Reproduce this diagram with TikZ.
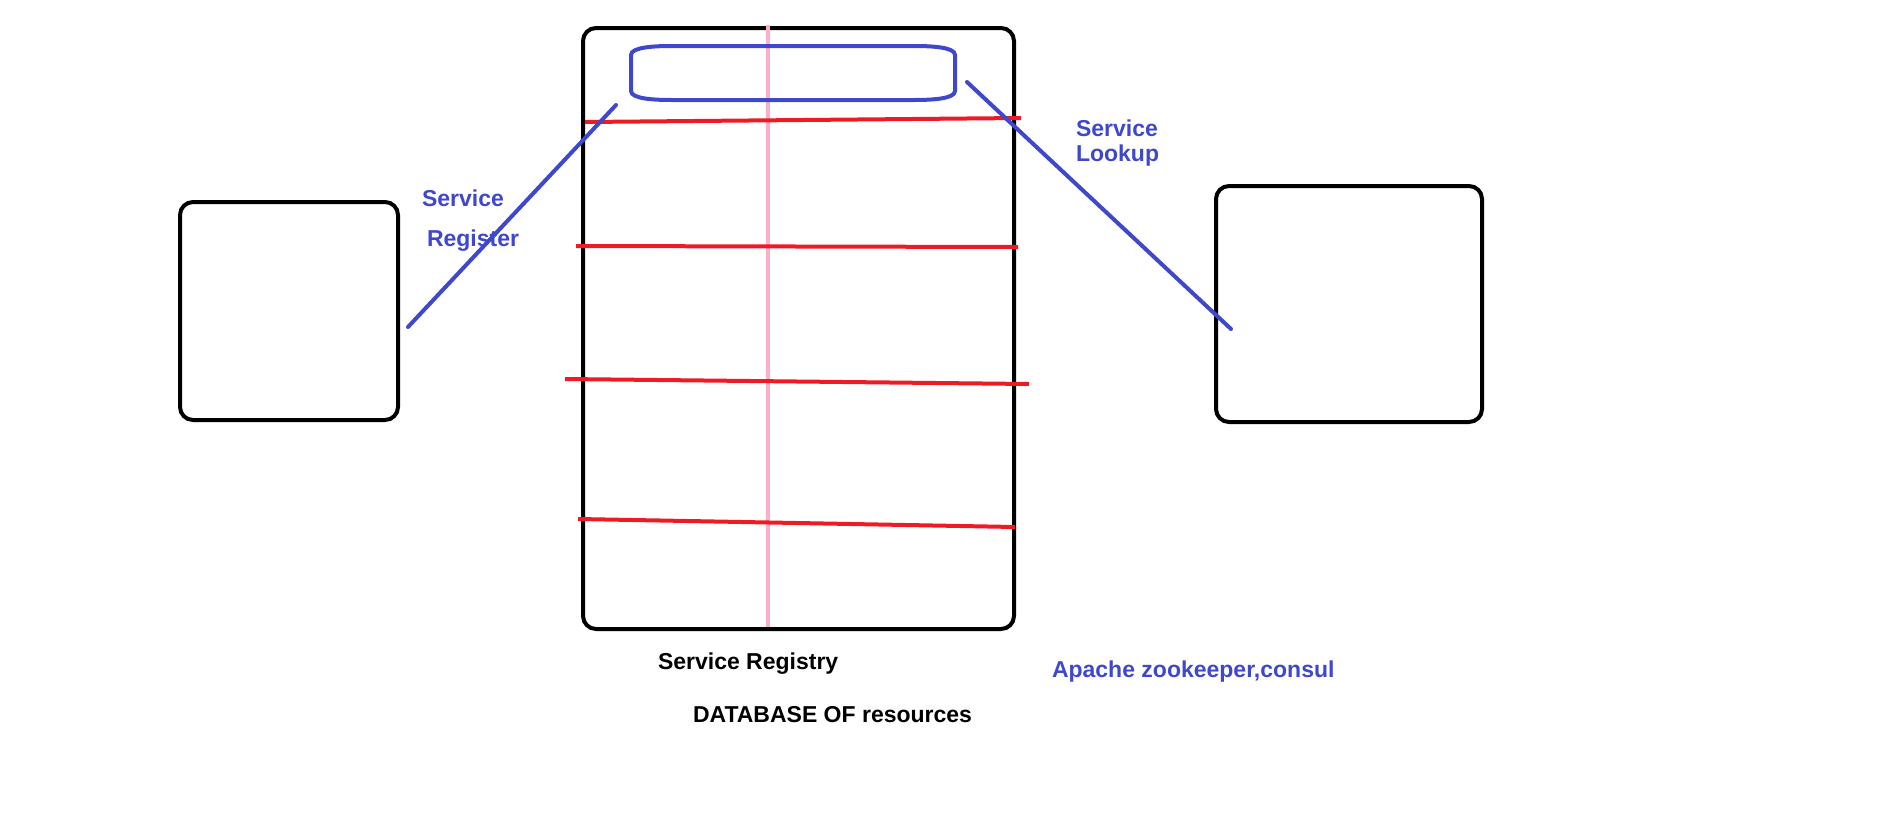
\documentclass[tikz,border=0pt]{standalone}
\usepackage{fontspec}
\setmainfont{Liberation Sans}
\definecolor{pblue}{HTML}{3F48CC}
\definecolor{pred}{HTML}{ED1C24}
\definecolor{ppink}{HTML}{FFAEC9}
\tikzset{
  box/.style={draw=black, line width=4pt, rounded corners=13pt, rectangle, inner sep=0pt, outer sep=0pt},
  bluel/.style={draw=pblue, line width=4pt, line cap=round},
  redl/.style={draw=pred, line width=4pt},
  pinkl/.style={draw=ppink, line width=4.5pt},
  lbl/.style={inner sep=0pt, outer sep=0pt, anchor=base west, font=\bfseries\fontsize{23}{27}\selectfont},
}
\begin{document}
\begin{tikzpicture}[x=1pt,y=-1pt]
\useasboundingbox (0,0) rectangle (1901,822);
% boxes
\node[box, minimum width=218pt, minimum height=218pt] (client) at (289,311) {};
\node[box, minimum width=266pt, minimum height=236pt] (consumer) at (1349,304) {};
\node[box, minimum width=431pt, minimum height=601pt] (registry) at (798.5,328.5) {};
% pink divider
\coordinate (pt) at (768,25);
\coordinate (pb) at (768,627);
\draw[pinkl] (pt) -- (pb);
% blue rounded header
\draw[draw=pblue, line width=4pt] (631,55) .. controls (631,47) and (655,46) .. (672,46) -- (914,46)
  .. controls (931,46) and (955,47) .. (955,55) -- (955,91)
  .. controls (955,99) and (931,100) .. (914,100) -- (672,100)
  .. controls (655,100) and (631,99) .. (631,91) -- cycle;
% red rows
\coordinate (r1a) at (585,122); \coordinate (r1b) at (1021,118);
\coordinate (r2a) at (576,246); \coordinate (r2b) at (1018,247);
\coordinate (r3a) at (565,379); \coordinate (r3b) at (1029,384);
\coordinate (r4a) at (578,519); \coordinate (r4b) at (1015,527);
\draw[redl] (r1a) -- (r1b);
\draw[redl] (r2a) -- (r2b);
\draw[redl] (r3a) -- (r3b);
\draw[redl] (r4a) -- (r4b);
% blue connectors
\coordinate (regA) at (408,327);
\coordinate (regB) at (616,105);
\coordinate (lkA) at (967,82);
\coordinate (lkB) at (1231,329);
\draw[bluel] (regA) -- (regB);
\draw[bluel] (lkA) -- (lkB);
% labels
\node[lbl, text=pblue] (t1) at (422,206) {Service};
\node[lbl, text=pblue] (t2) at (427,246) {Register};
\node[lbl, text=pblue] (t3) at (1076,136) {Service};
\node[lbl, text=pblue] (t4) at (1076,161) {Lookup};
\node[lbl, text=black] (t5) at (658,669) {Service Registry};
\node[lbl, text=black] (t6) at (693,722) {DATABASE OF resources};
\node[lbl, text=pblue] (t7) at (1052,677) {Apache zookeeper,consul};
\end{tikzpicture}
\end{document}
